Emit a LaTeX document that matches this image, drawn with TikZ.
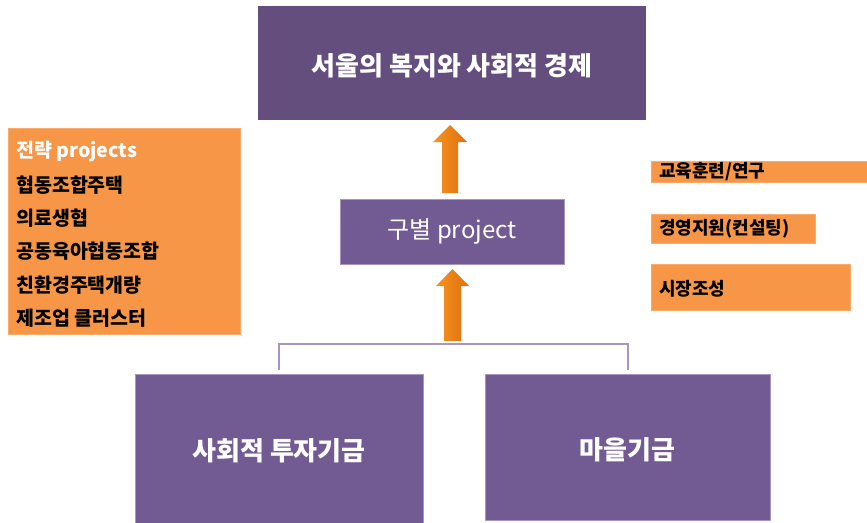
\documentclass[tikz,border=0pt]{standalone}
\usepackage{fontspec}
\setmainfont{Noto Sans CJK KR}
\definecolor{topPurple}{HTML}{634E7E}
\definecolor{boxPurple}{HTML}{725B92}
\definecolor{edgePurple}{HTML}{A696C0}
\definecolor{orangeBox}{HTML}{F79646}
\definecolor{arrowL}{HTML}{F7941E}
\definecolor{arrowR}{HTML}{DF6E12}
\tikzset{
  purplebox/.style={fill=boxPurple, draw=edgePurple, line width=0.6pt},
  orangebox/.style={fill=orangeBox, draw=orangeBox!80!white, line width=0.5pt},
  leftitem/.style={anchor=west, inner sep=0pt, font=\fontsize{19.5}{22}\selectfont\bfseries},
  rightitem/.style={anchor=west, inner sep=0pt, font=\fontsize{18}{20}\selectfont\bfseries},
  bigarrow/.style={left color=arrowL, right color=arrowR, shading angle=90},
  bracket/.style={draw=edgePurple, line width=2pt}
}
\begin{document}
\begin{tikzpicture}[x=1pt,y=-1pt]
\useasboundingbox (0,0) rectangle (867,522);
\fill[white] (0,0) rectangle (867,522);
% top box
\node[fill=topPurple, minimum width=388pt, minimum height=114pt, inner sep=0pt] (top) at (452,63) {};
\node[inner sep=0pt] (toptext) at (452,66)
  {\color{white}\fontsize{26}{30}\selectfont\bfseries 서울의 복지와 사회적 경제};
% middle box
\node[purplebox, minimum width=224pt, minimum height=65pt, inner sep=0pt] (mid) at (452,231.5)
  {\color{white}\fontsize{24}{28}\selectfont 구별 project};
% bottom boxes
\node[purplebox, minimum width=288pt, minimum height=150pt, inner sep=0pt] (fundA) at (279,449) {};
\node[inner sep=0pt] (fundAt) at (279,451)
  {\color{white}\fontsize{26}{30}\selectfont\bfseries 사회적 투자기금};
\node[purplebox, minimum width=285pt, minimum height=146pt, inner sep=0pt] (fundB) at (627.5,447) {};
\node[inner sep=0pt] (fundBt) at (627.5,450)
  {\color{white}\fontsize{26}{30}\selectfont\bfseries 마을기금};
% bracket
\coordinate (bl) at (279,370);
\coordinate (br) at (628,370);
\draw[bracket] (bl) |- (452,344) -| (br);
% arrows
\path[bigarrow] (442,193) -- (442,142) -- (433,142) -- (450,125) -- (467,142) -- (458,142) -- (458,193) -- cycle;
\path[bigarrow] (444,341) -- (444,286) -- (436,286) -- (452.5,269) -- (469,286) -- (461,286) -- (461,341) -- cycle;
% left orange box
\node[orangebox, minimum width=232pt, minimum height=206pt, inner sep=0pt] (strat) at (124,231) {};
\node[leftitem, text=white] (s0) at (16,151) {전략 projects};
\node[leftitem] (s1) at (16,185) {협동조합주택};
\node[leftitem] (s2) at (16,218) {의료생협};
\node[leftitem] (s3) at (16,251) {공동육아협동조합};
\node[leftitem] (s4) at (16,285) {친환경주택개량};
\node[leftitem] (s5) at (16,318) {제조업 클러스터};
% right orange boxes
\node[orangebox, minimum width=216pt, minimum height=21pt, inner sep=0pt] (r1) at (759,171.5) {};
\node[rightitem] (r1t) at (659,172) {교육훈련/연구};
\node[orangebox, minimum width=164pt, minimum height=29pt, inner sep=0pt] (r2) at (733,228.5) {};
\node[rightitem] (r2t) at (659,229) {경영지원(컨설팅)};
\node[orangebox, minimum width=199pt, minimum height=46pt, inner sep=0pt] (r3) at (750.5,287) {};
\node[rightitem] (r3t) at (659,289) {시장조성};
\end{tikzpicture}
\end{document}
